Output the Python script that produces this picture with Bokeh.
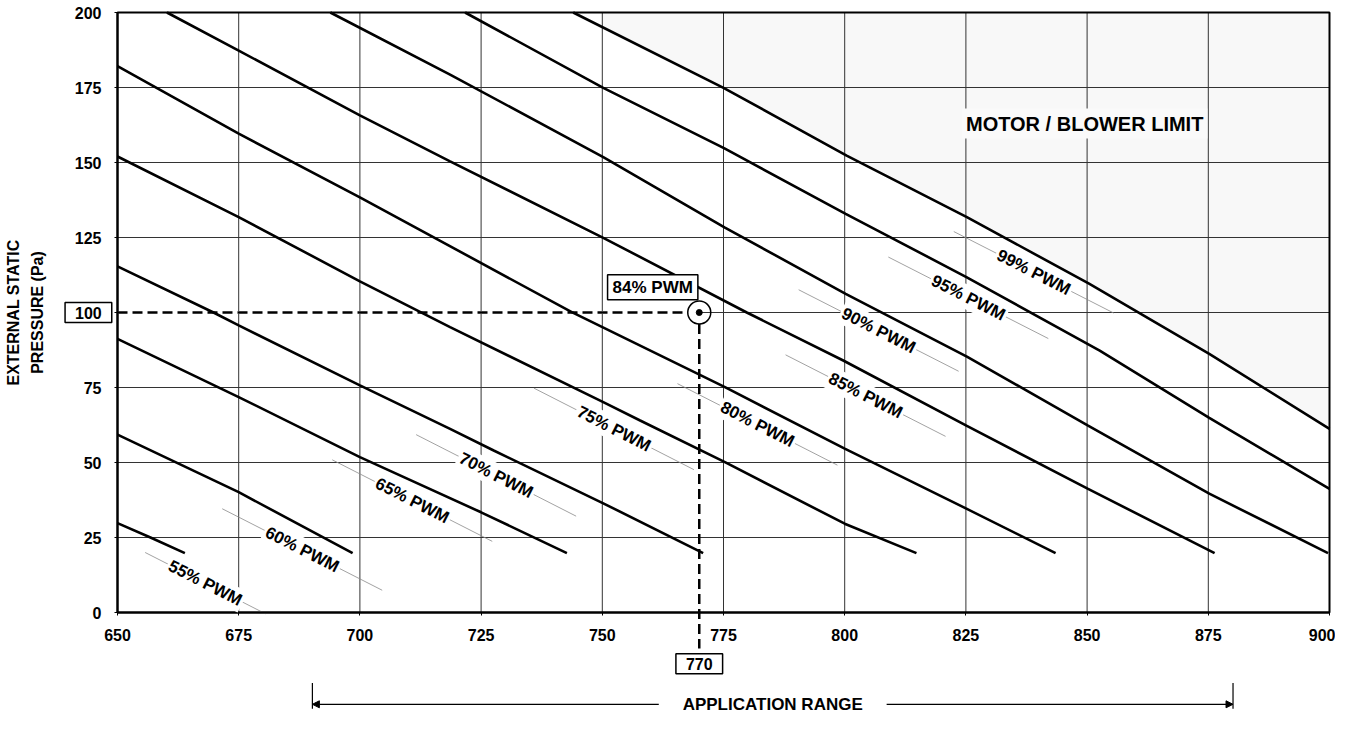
import numpy as np
from bokeh.plotting import figure
from bokeh.models import Label, Arrow, NormalHead, FixedTicker, Range1d, ColumnDataSource
from bokeh.embed import file_html
from bokeh.resources import INLINE

# ---------------- data ----------------
x_ticks = [650, 675, 700, 725, 750, 775, 800, 825, 850, 875, 900]
y_ticks = [0, 25, 50, 75, 100, 125, 150, 175, 200]

pwm55_x = [650, 656.8, 663.9]
pwm55_y = [29.8, 25.0, 19.8]
pwm60_x = [650, 675, 698.5]
pwm60_y = [59.3, 40.1, 19.8]
pwm65_x = [650, 675, 700, 725, 742.7]
pwm65_y = [91.2, 71.8, 51.8, 33.4, 19.8]
pwm70_x = [650, 669.8, 675, 700, 718.6, 727.6, 750.2, 770.8]
pwm70_y = [115.4, 100, 95.7, 75.7, 61.2, 54.0, 36.4, 19.8]
pwm75_x = [650, 675, 700, 718.6, 750.2, 757.8, 775.3, 800, 814.8]
pwm75_y = [152, 131.8, 110.4, 95.1, 70.1, 64, 50.1, 29.6, 19.8]
pwm80_x = [650, 675, 700, 743.7, 775.3, 800, 825.1, 843.5]
pwm80_y = [182.1, 159.6, 138.4, 100.1, 75.1, 54.6, 34.6, 19.8]
pwm85_x = [660.2, 675, 700, 718.6, 750.2, 779.8, 799.7, 825.1, 850.2, 876.3]
pwm85_y = [200, 187.3, 165.7, 150.4, 124.9, 100, 84, 62.3, 41.2, 19.8]
pwm90_x = [693.9, 718.6, 750.2, 775.2, 800.2, 825.2, 850.2, 875.2, 899.7]
pwm90_y = [200, 179.3, 151.8, 128.4, 106.2, 85.3, 62.3, 39.6, 19.8]
pwm95_x = [721.7, 750.2, 775.2, 800.2, 825.1, 852.6, 875.2, 900]
pwm95_y = [200, 174.9, 154.7, 132.9, 111.8, 87.3, 64.9, 41.2]
pwm99_x = [744, 775, 800.4, 825.2, 850.4, 875.2, 900]
pwm99_y = [200, 174.9, 152.3, 131.8, 109.6, 86.2, 61.2]

curve_x = [pwm55_x, pwm60_x, pwm65_x, pwm70_x, pwm75_x, pwm80_x, pwm85_x, pwm90_x, pwm95_x, pwm99_x]
curve_y = [pwm55_y, pwm60_y, pwm65_y, pwm70_y, pwm75_y, pwm80_y, pwm85_y, pwm90_y, pwm95_y, pwm99_y]

curve_labels = ["55% PWM", "60% PWM", "65% PWM", "70% PWM", "75% PWM",
                "80% PWM", "85% PWM", "90% PWM", "95% PWM", "99% PWM"]
label_x = [668.1, 688.1, 710.8, 728.1, 752.4, 782.0, 804.3, 807.0, 825.5, 839.0]
label_y = [9.8, 21.0, 37.3, 45.7, 61.2, 62.7, 72.3, 94.0, 104.9, 113.4]

op_airflow = 770
op_pressure = 100
op_label = "84% PWM"
limit_label = "MOTOR / BLOWER LIMIT"
limit_start = 750
app_range = [690.2, 880.1]
app_label = "APPLICATION RANGE"

FONT = "Liberation Sans"

# ---------------- layout (canvas px <-> data) ----------------
W, H = 1335, 715
FRAME_LEFT_PX, FRAME_TOP_PX = 117, 12
xscale = 1212 / (x_ticks[-1] - x_ticks[0])   # px per unit
yscale = 600 / (y_ticks[-1] - y_ticks[0])
x0 = x_ticks[0] - FRAME_LEFT_PX / xscale
x1 = x0 + W / xscale
y1 = y_ticks[-1] + FRAME_TOP_PX / yscale
y0 = y1 - H / yscale

p = figure(width=W, height=H, x_range=Range1d(x0, x1), y_range=Range1d(y0, y1),
           output_backend="svg", toolbar_location=None,
           min_border_left=0, min_border_right=0, min_border_top=0, min_border_bottom=0)
p.background_fill_color = "white"
p.border_fill_color = "white"
p.outline_line_color = None
p.xgrid.visible = False
p.ygrid.visible = False

# axes drawn at the data origin
p.xaxis.fixed_location = y_ticks[0]
p.yaxis.fixed_location = x_ticks[0]
p.xaxis.bounds = (x_ticks[0], x_ticks[-1])
p.yaxis.bounds = (y_ticks[0], y_ticks[-1])
p.xaxis.ticker = FixedTicker(ticks=x_ticks)
p.yaxis.ticker = FixedTicker(ticks=y_ticks)
p.axis.axis_line_color = "black"
p.axis.axis_line_width = 2
p.axis.major_tick_line_color = "black"
p.axis.major_tick_out = 3
p.axis.major_tick_in = 0
p.axis.minor_tick_line_color = None
p.axis.major_label_text_font = FONT
p.axis.major_label_text_font_style = "bold"
p.axis.major_label_text_font_size = "16px"
p.axis.major_label_text_color = "black"
p.xaxis.major_label_standoff = 13
p.yaxis.major_label_standoff = 13
p.yaxis.major_label_overrides = {100: ""}

# shaded motor / blower limit region (above 99% curve)
y_at_start = float(np.interp(limit_start, pwm99_x, pwm99_y))
sx = [limit_start] + [x for x in pwm99_x if x > limit_start] + [x_ticks[-1], limit_start]
sy = [y_at_start] + [y for x, y in zip(pwm99_x, pwm99_y) if x > limit_start] + [y_ticks[-1], y_ticks[-1]]
p.patch(sx, sy, fill_color="#f4f4f4", fill_alpha=0.6, line_color=None)

# grid inside the chart area
gx = x_ticks[1:-1]
p.segment(gx, [y_ticks[0]] * len(gx), gx, [y_ticks[-1]] * len(gx), line_color="#333333", line_width=1)
gy = y_ticks[1:-1]
p.segment([x_ticks[0]] * len(gy), gy, [x_ticks[-1]] * len(gy), gy, line_color="#333333", line_width=1)
p.quad(left=x_ticks[0], right=x_ticks[-1], bottom=y_ticks[0], top=y_ticks[-1],
       fill_color=None, line_color="black", line_width=2)

# leader lines for curve labels
ang = np.deg2rad(27)
half_dx = np.array([12.4] + [16.5] * 9)
half_dy = half_dx * np.tan(ang) * xscale / yscale
lx = np.array(label_x)
ly = np.array(label_y)
p.segment(lx - half_dx, ly + half_dy, lx + half_dx, ly - half_dy,
          line_color="#8a8a8a", line_width=0.8)

# operating point guides
r_px = 11.5
p.line([x_ticks[0], op_airflow], [op_pressure, op_pressure], line_color="white", line_width=3)
p.line([x_ticks[0], op_airflow - r_px / xscale], [op_pressure, op_pressure],
       line_color="black", line_width=2.5, line_dash="10 5")
p.line([op_airflow, op_airflow], [op_pressure - r_px / yscale, -12],
       line_color="black", line_width=2.5, line_dash="10 5")

# curves
for cx, cy in zip(curve_x, curve_y):
    p.line(cx, cy, line_color="black", line_width=2.6)

# operating point marker
src = ColumnDataSource(dict(x=[op_airflow], y=[op_pressure]))
p.scatter("x", "y", source=src, size=2 * r_px, fill_color=None, line_color="black", line_width=1.5)
p.scatter("x", "y", source=src, size=6, fill_color="black", line_color="black")


def boxed(x, y, text, size, pad_x, pad_y):
    lab = Label(x=x, y=y, text=text, text_align="center", text_baseline="middle",
                text_color="black", text_font=FONT, text_font_style="bold",
                text_font_size=size, background_fill_color="white",
                border_line_color="black", border_line_width=1.5, padding=4)
    try:
        lab.padding = dict(left=pad_x, right=pad_x, top=pad_y, bottom=pad_y)
    except Exception:
        lab.padding = pad_y
    return lab


# curve labels
for t, x, y in zip(curve_labels, label_x, label_y):
    p.add_layout(Label(x=x, y=y, text=t, angle=-27, angle_units="deg",
                       text_align="center", text_baseline="middle",
                       text_font=FONT, text_font_style="bold", text_font_size="17px",
                       text_color="black", background_fill_color="white", padding=2))

# boxed labels
p.add_layout(boxed(op_airflow - 9.6, op_pressure + 8.4, op_label, "17px", 5, 3))
p.add_layout(boxed(644, op_pressure, str(op_pressure), "16px", 10, 4))
p.add_layout(boxed(op_airflow, -17.1, str(op_airflow), "16px", 10, 4))

# motor/blower limit label
p.add_layout(Label(x=849.5, y=163, text=limit_label, text_color="black",
                   text_align="center", text_baseline="middle",
                   text_font=FONT, text_font_style="bold", text_font_size="20px",
                   background_fill_color="#fafafa", padding=4))

# y axis title
p.add_layout(Label(x=628.6, y=100, text="EXTERNAL STATIC", angle=90, angle_units="deg",
                   text_align="center", text_baseline="middle", text_color="black",
                   text_font=FONT, text_font_style="bold", text_font_size="16px"))
p.add_layout(Label(x=633.6, y=100, text="PRESSURE (Pa)", angle=90, angle_units="deg",
                   text_align="center", text_baseline="middle", text_color="black",
                   text_font=FONT, text_font_style="bold", text_font_size="16px"))

# application range
app_y = -30.6
app_mid = (app_range[0] + app_range[1]) / 2
gap = 23.5
p.add_layout(Label(x=app_mid, y=app_y, text=app_label, text_color="black",
                   text_align="center", text_baseline="middle",
                   text_font=FONT, text_font_style="bold", text_font_size="17px"))
head = dict(size=7, fill_color="black", line_color="black", line_width=1)
p.add_layout(Arrow(end=NormalHead(**head), x_start=app_mid - gap, y_start=app_y,
                   x_end=app_range[0], y_end=app_y, line_color="black", line_width=1.2))
p.add_layout(Arrow(end=NormalHead(**head), x_start=app_mid + gap, y_start=app_y,
                   x_end=app_range[1], y_end=app_y, line_color="black", line_width=1.2))
p.segment(app_range, [-23.5, -23.5], app_range, [app_y - 1.5, app_y - 1.5],
          line_color="black", line_width=1.2)

open("out.html", "w").write(file_html(p, INLINE))
